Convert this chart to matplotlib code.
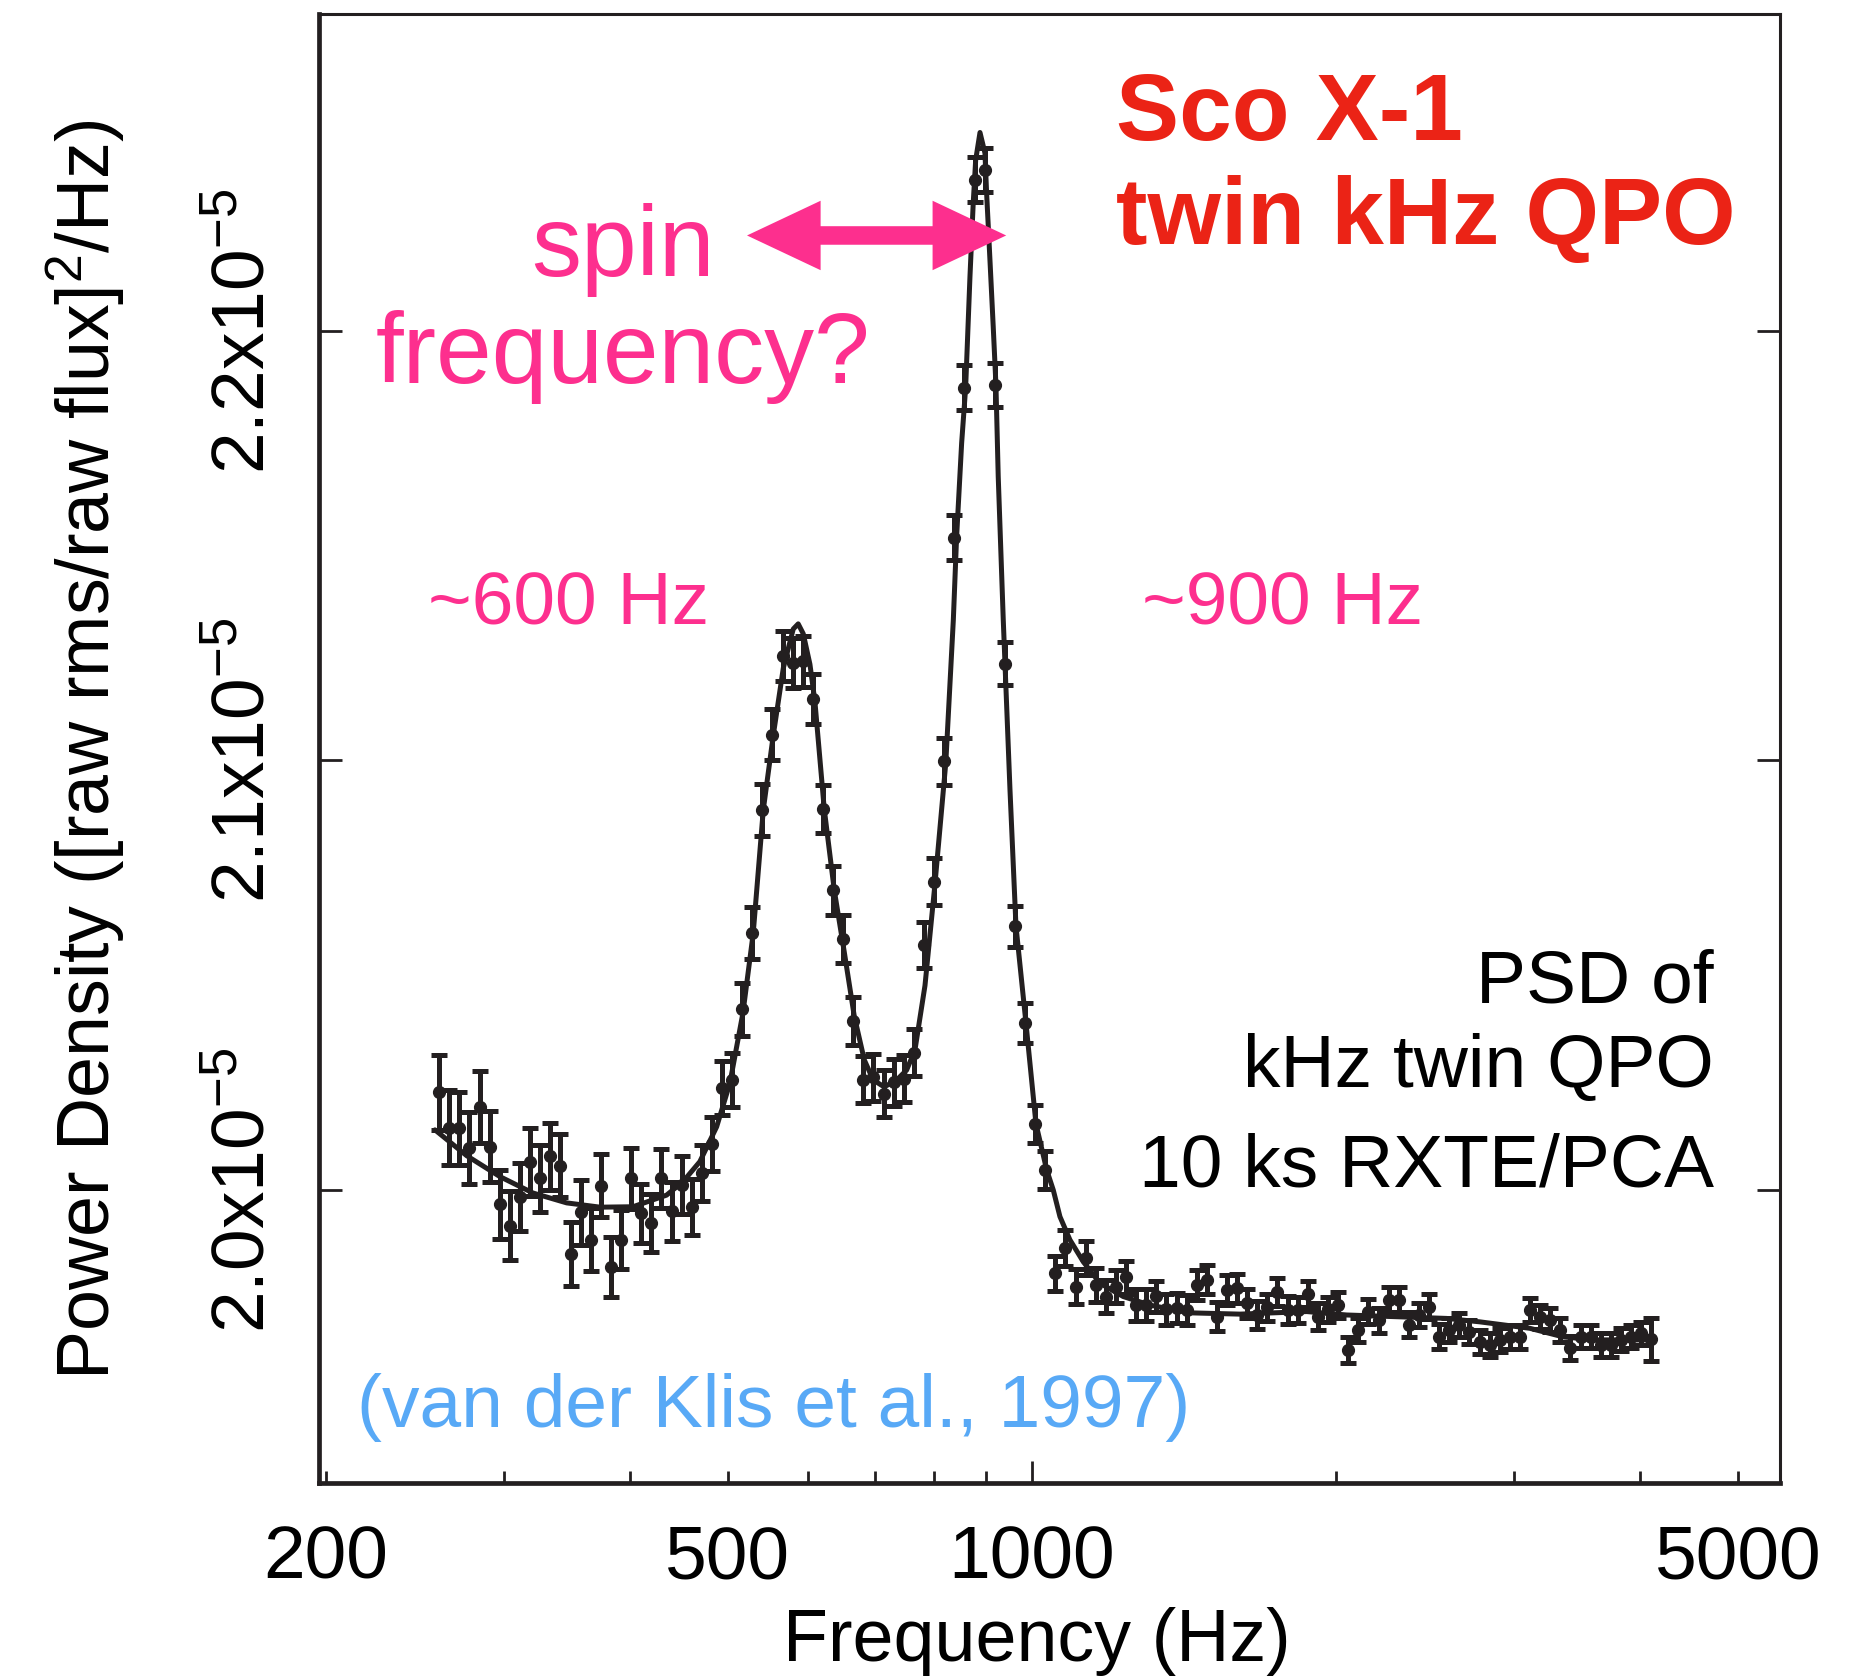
import numpy as np
import matplotlib
matplotlib.use("Agg")
import matplotlib.pyplot as plt
from matplotlib.ticker import NullFormatter
from matplotlib.patches import FancyArrowPatch

# PSD points (frequency in Hz, power in units of 1e-5 (rms/flux)^2/Hz)
freq = [258.9, 264.9, 271.1, 277.4, 283.9, 290.5, 297.3, 304.2, 311.3, 318.5,
        325.9, 333.5, 341.3, 349.3, 357.4, 365.7, 374.2, 382.9, 391.9, 401.0,
        410.3, 419.9, 429.7, 439.7, 449.9, 460.4, 471.1, 482.1, 493.3, 504.8,
        516.6, 528.6, 540.9, 553.5, 566.4, 579.6, 593.1, 606.9, 621.0, 635.5,
        650.3, 665.5, 681.0, 696.8, 713.1, 729.7, 746.7, 764.1, 781.9, 800.1,
        818.7, 837.8, 857.3, 877.3, 897.7, 918.6, 940.0, 961.9, 984.3, 1007.2,
        1030.7, 1054.7, 1079.3, 1104.4, 1130.1, 1156.5, 1183.4, 1211.0, 1239.2, 1268.0,
        1297.6, 1327.8, 1358.7, 1390.4, 1422.8, 1455.9, 1489.8, 1524.5, 1560.0, 1596.4,
        1633.5, 1671.6, 1710.5, 1750.3, 1791.1, 1832.8, 1875.5, 1919.2, 1963.9, 2009.6,
        2056.5, 2104.4, 2153.4, 2203.6, 2254.9, 2307.4, 2361.2, 2416.2, 2472.4, 2530.0,
        2589.0, 2649.3, 2711.0, 2774.2, 2838.8, 2904.9, 2972.6, 3041.8, 3112.6, 3185.2,
        3259.4, 3335.3, 3413.0, 3492.5, 3573.8, 3657.1, 3742.3, 3829.4, 3918.6, 4009.9,
        4103.3]

power = [2.0227, 2.0145, 2.0144, 2.0097, 2.0193, 2.0101, 1.9967, 1.9917, 1.9984, 2.0065,
         2.0027, 2.0078, 2.0057, 1.9851, 1.9948, 1.9884, 2.0010, 1.9820, 1.9884, 2.0027,
         1.9946, 1.9923, 2.0027, 1.9950, 2.0012, 1.9961, 2.0039, 2.0107, 2.0238, 2.0256,
         2.0421, 2.0598, 2.0885, 2.1060, 2.1243, 2.1227, 2.1231, 2.1143, 2.0887, 2.0698,
         2.0584, 2.0393, 2.0257, 2.0262, 2.0224, 2.0251, 2.0259, 2.0320, 2.0570, 2.0718,
         2.0998, 2.1519, 2.1868, 2.2352, 2.2375, 2.1874, 2.1225, 2.0614, 2.0389, 2.0154,
         2.0046, 1.9806, 1.9865, 1.9775, 1.9841, 1.9779, 1.9752, 1.9775, 1.9797, 1.9732,
         1.9732, 1.9753, 1.9722, 1.9725, 1.9721, 1.9779, 1.9791, 1.9705, 1.9767, 1.9771,
         1.9736, 1.9709, 1.9727, 1.9763, 1.9721, 1.9721, 1.9758, 1.9705, 1.9722, 1.9732,
         1.9627, 1.9674, 1.9717, 1.9697, 1.9744, 1.9744, 1.9686, 1.9709, 1.9728, 1.9658,
         1.9674, 1.9686, 1.9670, 1.9647, 1.9639, 1.9651, 1.9658, 1.9658, 1.9721, 1.9705,
         1.9697, 1.9674, 1.9632, 1.9658, 1.9658, 1.9639, 1.9639, 1.9651, 1.9658, 1.9666,
         1.9652]

err = [0.0087, 0.0087, 0.0085, 0.0084, 0.0084, 0.0083, 0.0080, 0.0080, 0.0079, 0.0080,
       0.0078, 0.0077, 0.0074, 0.0075, 0.0075, 0.0073, 0.0073, 0.0070, 0.0069, 0.0071,
       0.0069, 0.0068, 0.0068, 0.0068, 0.0067, 0.0065, 0.0065, 0.0063, 0.0063, 0.0062,
       0.0062, 0.0061, 0.0060, 0.0060, 0.0059, 0.0059, 0.0059, 0.0058, 0.0057, 0.0057,
       0.0056, 0.0056, 0.0055, 0.0055, 0.0055, 0.0055, 0.0055, 0.0055, 0.0054, 0.0054,
       0.0054, 0.0052, 0.0052, 0.0052, 0.0052, 0.0052, 0.0050, 0.0048, 0.0046, 0.0045,
       0.0044, 0.0041, 0.0041, 0.0041, 0.0040, 0.0040, 0.0039, 0.0039, 0.0038, 0.0038,
       0.0037, 0.0036, 0.0036, 0.0035, 0.0035, 0.0035, 0.0034, 0.0034, 0.0034, 0.0033,
       0.0033, 0.0033, 0.0032, 0.0032, 0.0032, 0.0031, 0.0031, 0.0031, 0.0030, 0.0030,
       0.0030, 0.0029, 0.0029, 0.0029, 0.0029, 0.0029, 0.0029, 0.0029, 0.0029, 0.0029,
       0.0029, 0.0028, 0.0028, 0.0028, 0.0028, 0.0028, 0.0028, 0.0028, 0.0028, 0.0028,
       0.0028, 0.0027, 0.0027, 0.0027, 0.0027, 0.0027, 0.0027, 0.0027, 0.0027, 0.0027,
       0.0050]

# fitted model curve
fit_freq = [256.4, 275.6, 297.4, 320.6, 346.2, 373.6, 402.7, 434.7, 451.2, 469.0,
            487.3, 502.3, 517.4, 529.7, 542.0, 554.5, 567.3, 580.3, 586.9, 593.7,
            602.8, 609.7, 622.8, 637.2, 651.9, 666.9, 682.3, 696.4, 714.1, 734.5,
            751.4, 765.9, 783.6, 801.6, 821.7, 835.9, 842.2, 851.9, 859.7, 868.2,
            874.7, 879.6, 888.3, 898.4, 901.8, 908.7, 915.5, 921.2, 926.0, 936.7,
            940.4, 951.1, 964.2, 986.4, 1009.2, 1034.1, 1049.8, 1065.9, 1090.4, 1124.1,
            1167.6, 1231.3, 1308.8, 1433.5, 1606.9, 1870.7, 2049.2, 2296.6, 2573.3, 2776.9,
            3111.7, 3357.4, 3623.3, 4060.5]
fit_power = [2.0140, 2.0080, 2.0031, 1.9993, 1.9970, 1.9960, 1.9961, 1.9988, 2.0019, 2.0066,
             2.0147, 2.0249, 2.0412, 2.0598, 2.0885, 2.1059, 2.1215, 2.1306, 2.1318, 2.1295,
             2.1224, 2.1137, 2.0887, 2.0698, 2.0554, 2.0405, 2.0303, 2.0256, 2.0240, 2.0256,
             2.0279, 2.0326, 2.0476, 2.0712, 2.0995, 2.1327, 2.1521, 2.1739, 2.1868, 2.2126,
             2.2298, 2.2398, 2.2462, 2.2414, 2.2321, 2.2165, 2.2010, 2.1874, 2.1661, 2.1327,
             2.1225, 2.0933, 2.0615, 2.0389, 2.0154, 2.0047, 2.0000, 1.9938, 1.9884, 1.9833,
             1.9783, 1.9752, 1.9732, 1.9714, 1.9711, 1.9717, 1.9709, 1.9705, 1.9701, 1.9693,
             1.9678, 1.9658, 1.9651, 1.9651]

xtick_vals = [200, 500, 1000, 5000]
xtick_text = ['200', '500', '1000', '5000']
xminor_vals = [300, 400, 600, 700, 800, 900, 2000, 3000, 4000]
ytick_vals = [2.0, 2.1, 2.2]
ytick_text = ['2.0x10$^{-5}$', '2.1x10$^{-5}$', '2.2x10$^{-5}$']

ink = '#231f20'
pink = '#fd2f8e'
red = '#eb2316'
blue = '#58a9f6'

plt.rcParams['font.family'] = ['Liberation Sans', 'DejaVu Sans']
plt.rcParams['mathtext.fontset'] = 'custom'
plt.rcParams['mathtext.rm'] = 'Liberation Sans'
plt.rcParams['mathtext.default'] = 'rm'

fig = plt.figure(figsize=(18.65, 16.8), dpi=100)
ax = fig.add_axes([0.1710, 0.1173, 0.7834, 0.8744])

scale = 1e-5
ax.errorbar(freq, np.array(power) * scale, yerr=np.array(err) * scale, fmt='o',
            ms=8.5, color=ink, ecolor=ink, elinewidth=3.6, capsize=5.8, capthick=3.6, zorder=3)
ax.plot(fit_freq, np.array(fit_power) * scale, color=ink, lw=3.6, zorder=4,
        solid_joinstyle='round', solid_capstyle='round')

ax.set_xscale('log')
ax.set_xlim(196.8, 5503)
ax.set_ylim(1.9318e-5, 2.2738e-5)

ax.set_xticks(xtick_vals, labels=xtick_text)
ax.set_xticks(xminor_vals, minor=True)
ax.xaxis.set_minor_formatter(NullFormatter())
ax.tick_params(axis='x', which='both', direction='in', top=False, bottom=True,
               length=8.6, width=2.0, color=ink, pad=30, labelsize=54)
ax.xaxis.get_major_ticks()[2].tick1line.set_markersize(15.8)

ax.set_yticks([v * scale for v in ytick_vals])
ax.set_yticklabels(ytick_text, rotation=90, va='center')
ax.tick_params(axis='y', which='both', direction='in', left=True, right=True,
               length=16.5, width=2.0, color=ink, pad=29, labelsize=54)
ax.yaxis.set_minor_locator(plt.NullLocator())

for side in ['left', 'bottom']:
    ax.spines[side].set_linewidth(3.4)
    ax.spines[side].set_color(ink)
for side in ['top', 'right']:
    ax.spines[side].set_linewidth(2.2)
    ax.spines[side].set_color(ink)

fig.text(1036.5 / 1865, 1 - 1661 / 1680, 'Frequency (Hz)', ha='center', va='baseline', fontsize=53)
fig.text(110 / 1865, 1 - 750 / 1680, 'Power Density ([raw rms/raw flux]$^{2}$/Hz)',
         rotation=90, rotation_mode='anchor', ha='center', va='baseline', fontsize=53)

ax.text(0.5455, 0.9142, 'Sco X-1', transform=ax.transAxes, color=red,
        fontsize=68, fontweight='bold', ha='left', va='baseline')
ax.text(0.5455, 0.8434, 'twin kHz QPO', transform=ax.transAxes, color=red,
        fontsize=68, fontweight='bold', ha='left', va='baseline')
ax.text(0.2081, 0.8217, 'spin', transform=ax.transAxes, color=pink,
        fontsize=72, ha='center', va='baseline')
ax.text(0.2081, 0.7488, 'frequency?', transform=ax.transAxes, color=pink,
        fontsize=72, ha='center', va='baseline')
ax.text(0.1711, 0.5845, '~600 Hz', transform=ax.transAxes, color=pink,
        fontsize=54, ha='center', va='baseline')
ax.text(0.6598, 0.5845, '~900 Hz', transform=ax.transAxes, color=pink,
        fontsize=54, ha='center', va='baseline')
ax.text(0.9548, 0.3270, 'PSD of', transform=ax.transAxes, color='black',
        fontsize=54, ha='right', va='baseline')
ax.text(0.9548, 0.2696, 'kHz twin QPO', transform=ax.transAxes, color='black',
        fontsize=54, ha='right', va='baseline')
ax.text(0.9548, 0.2015, '10 ks RXTE/PCA', transform=ax.transAxes, color='black',
        fontsize=54, ha='right', va='baseline')
ax.text(0.0260, 0.0381, '(van der Klis et al., 1997)', transform=ax.transAxes, color=blue,
        fontsize=54, ha='left', va='baseline')

# double arrow between the two peaks: each arrow starts at the base of the opposite head
arrow_y = 0.8492
left_tip, right_tip = 0.2930, 0.4704
head_frac = 0.048
for a, b in [(left_tip + head_frac, right_tip), (right_tip - head_frac, left_tip)]:
    arr = FancyArrowPatch((a, arrow_y), (b, arrow_y), transform=ax.transAxes,
                          arrowstyle='simple,head_length=5.3,head_width=5.0,tail_width=1.3',
                          mutation_scale=10, color=pink, lw=0, shrinkA=0, shrinkB=0, zorder=5)
    ax.add_patch(arr)

fig.savefig('out.png', dpi=100)
